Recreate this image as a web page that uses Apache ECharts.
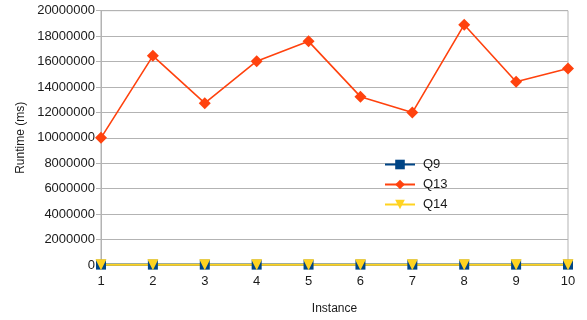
<!DOCTYPE html>
<html>
<head>
<meta charset="utf-8">
<script src="https://cdn.jsdelivr.net/npm/echarts@6/dist/echarts.min.js"></script>
<style>
  html, body { margin: 0; padding: 0; background: #fff; }
  #chart { width: 587px; height: 320px; }
</style>
</head>
<body>
<div id="chart"></div>
<script>
// Instances on the x axis
const instances = ['1', '2', '3', '4', '5', '6', '7', '8', '9', '10'];
// Runtime per query (ms)
const q9 = [30000, 30000, 30000, 30000, 30000, 30000, 30000, 30000, 30000, 30000];
const q13 = [10000000, 16450000, 12730000, 16030000, 17590000, 13240000, 11990000, 18900000, 14410000, 15460000];
const q14 = [15000, 15000, 15000, 15000, 15000, 15000, 15000, 15000, 15000, 15000];

const font = '"Liberation Sans", Arial, sans-serif';
const txt = '#1a1a1a';
const gridCol = '#b3b3b3';

const chart = echarts.init(document.getElementById('chart'), null, { renderer: 'canvas' });
chart.setOption({
  animation: false,
  backgroundColor: '#ffffff',
  textStyle: { fontFamily: font, color: txt },
  grid: {
    left: 101, right: 19, top: 10.7, bottom: 53.8,
    show: true, borderColor: gridCol, borderWidth: 1
  },
  legend: {
    orient: 'vertical',
    left: 379, top: 153,
    itemWidth: 30, itemHeight: 12, itemGap: 7,
    textStyle: { fontFamily: font, fontSize: 13, color: txt, padding: [0, 0, 0, 3] },
    data: ['Q9', 'Q13', 'Q14']
  },
  xAxis: {
    type: 'category',
    data: instances,
    boundaryGap: false,
    name: 'Instance',
    nameLocation: 'middle',
    nameGap: 38,
    nameTextStyle: { fontFamily: font, fontSize: 12, color: txt },
    axisLine: { lineStyle: { color: gridCol } },
    axisTick: { show: true, length: 4, lineStyle: { color: gridCol } },
    axisLabel: { fontFamily: font, fontSize: 13, color: txt, margin: 10 },
    splitLine: { show: false }
  },
  yAxis: {
    type: 'value',
    min: 0, max: 20000000, interval: 2000000,
    name: 'Runtime (ms)',
    nameLocation: 'middle',
    nameGap: 69,
    nameTextStyle: { fontFamily: font, fontSize: 12, color: txt },
    axisLine: { show: true, lineStyle: { color: gridCol } },
    axisTick: { show: true, length: 5, lineStyle: { color: gridCol } },
    axisLabel: {
      fontFamily: font, fontSize: 13, color: txt, margin: 6,
      formatter: v => String(v)
    },
    splitLine: { show: true, lineStyle: { color: gridCol, width: 1 } }
  },
  series: [
    {
      name: 'Q9', type: 'line', data: q9,
      color: '#004586',
      symbol: 'rect', symbolSize: 10,
      lineStyle: { width: 2, color: '#004586' },
      itemStyle: { color: '#004586' }
    },
    {
      name: 'Q13', type: 'line', data: q13,
      color: '#ff420e',
      symbol: 'diamond', symbolSize: 12,
      lineStyle: { width: 1.6, color: '#ff420e' },
      itemStyle: { color: '#ff420e' }
    },
    {
      name: 'Q14', type: 'line', data: q14,
      color: '#ffd320',
      symbol: 'triangle', symbolRotate: 180, symbolSize: 11,
      lineStyle: { width: 2, color: '#ffd320' },
      itemStyle: { color: '#ffd320' }
    }
  ]
});
</script>
</body>
</html>
